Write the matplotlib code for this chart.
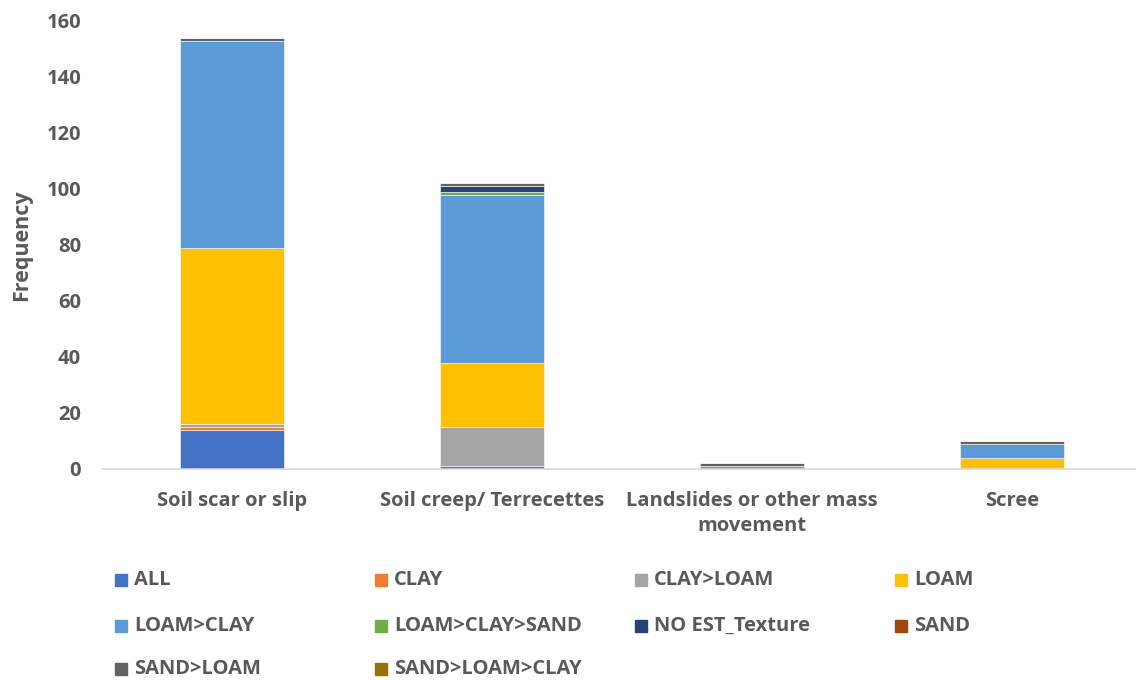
import matplotlib
matplotlib.use("Agg")
import matplotlib.pyplot as plt
from matplotlib.patches import Rectangle
import numpy as np

plt.rcParams['font.family'] = ['Open Sans', 'DejaVu Sans']

categories = ["Soil scar or slip", "Soil creep/ Terrecettes",
              "Landslides or other mass\nmovement", "Scree"]
series_names = ["ALL", "CLAY", "CLAY>LOAM", "LOAM", "LOAM>CLAY",
                "LOAM>CLAY>SAND", "NO EST_Texture", "SAND", "SAND>LOAM",
                "SAND>LOAM>CLAY"]
ALL = [14, 1, 0, 0]
CLAY = [1, 0, 0, 0]
CLAY_LOAM = [1, 14, 0, 0]
LOAM = [63, 23, 0, 4]
LOAM_CLAY = [74, 60, 1, 5]
LOAM_CLAY_SAND = [0, 1, 0, 0]
NO_EST = [0, 2, 0, 0]
SAND = [0, 0, 0, 0]
SAND_LOAM = [1, 1, 1, 1]
SAND_LOAM_CLAY = [0, 0, 0, 0]
yticks = [0, 20, 40, 60, 80, 100, 120, 140, 160]

series = [ALL, CLAY, CLAY_LOAM, LOAM, LOAM_CLAY, LOAM_CLAY_SAND, NO_EST,
          SAND, SAND_LOAM, SAND_LOAM_CLAY]
colors = ["#4472C4", "#ED7D31", "#A5A5A5", "#FFC000", "#5B9BD5",
          "#70AD47", "#264478", "#9E480E", "#636363", "#997300"]

W, H = 1136, 680
fig = plt.figure(figsize=(W / 100, H / 100), dpi=100)
ax = fig.add_axes([102 / W, 1 - 469 / H, 1040 / W, 448 / H])

x = np.arange(len(categories))
bottom = np.zeros(len(categories))
for vals, c in zip(series, colors):
    v = np.array(vals, dtype=float)
    ax.bar(x, v, bottom=bottom, width=0.4, color=c, edgecolor='white', linewidth=0.4)
    bottom += v

txt = "#595959"
ax.set_xlim(-0.5, 3.5)
ax.set_ylim(0, 160)
ax.set_yticks(yticks)
ax.set_yticklabels([str(t) for t in yticks], fontsize=14.5, fontweight='bold', color=txt)
ax.set_xticks(x)
ax.set_xticklabels(categories, fontsize=14.5, fontweight='bold', color=txt, linespacing=1.35)
ax.tick_params(axis='both', length=0)
ax.tick_params(axis='x', pad=16)
ax.tick_params(axis='y', pad=15)
for s in ['top', 'right', 'left']:
    ax.spines[s].set_visible(False)
ax.spines['bottom'].set_color('#D9D9D9')
ax.spines['bottom'].set_linewidth(1.2)
ax.set_ylabel("Frequency", fontsize=15.5, fontweight='bold', color=txt)
ax.yaxis.set_label_coords(-70 / 1040, 0.5)

# legend, row-major like Excel
col_x = [115, 375, 635, 895]
row_y = [580, 626, 669]
for i, (name, c) in enumerate(zip(series_names, colors)):
    r, cidx = divmod(i, 4)
    px, py = col_x[cidx], row_y[r]
    fig.patches.append(Rectangle((px / W, 1 - (py + 6) / H), 12 / W, 12 / H,
                                 transform=fig.transFigure, color=c))
    fig.text((px + 19) / W, 1 - py / H, name, fontsize=14.5, fontweight='bold',
             color=txt, va='center', ha='left')

fig.savefig("out.png", dpi=100)
